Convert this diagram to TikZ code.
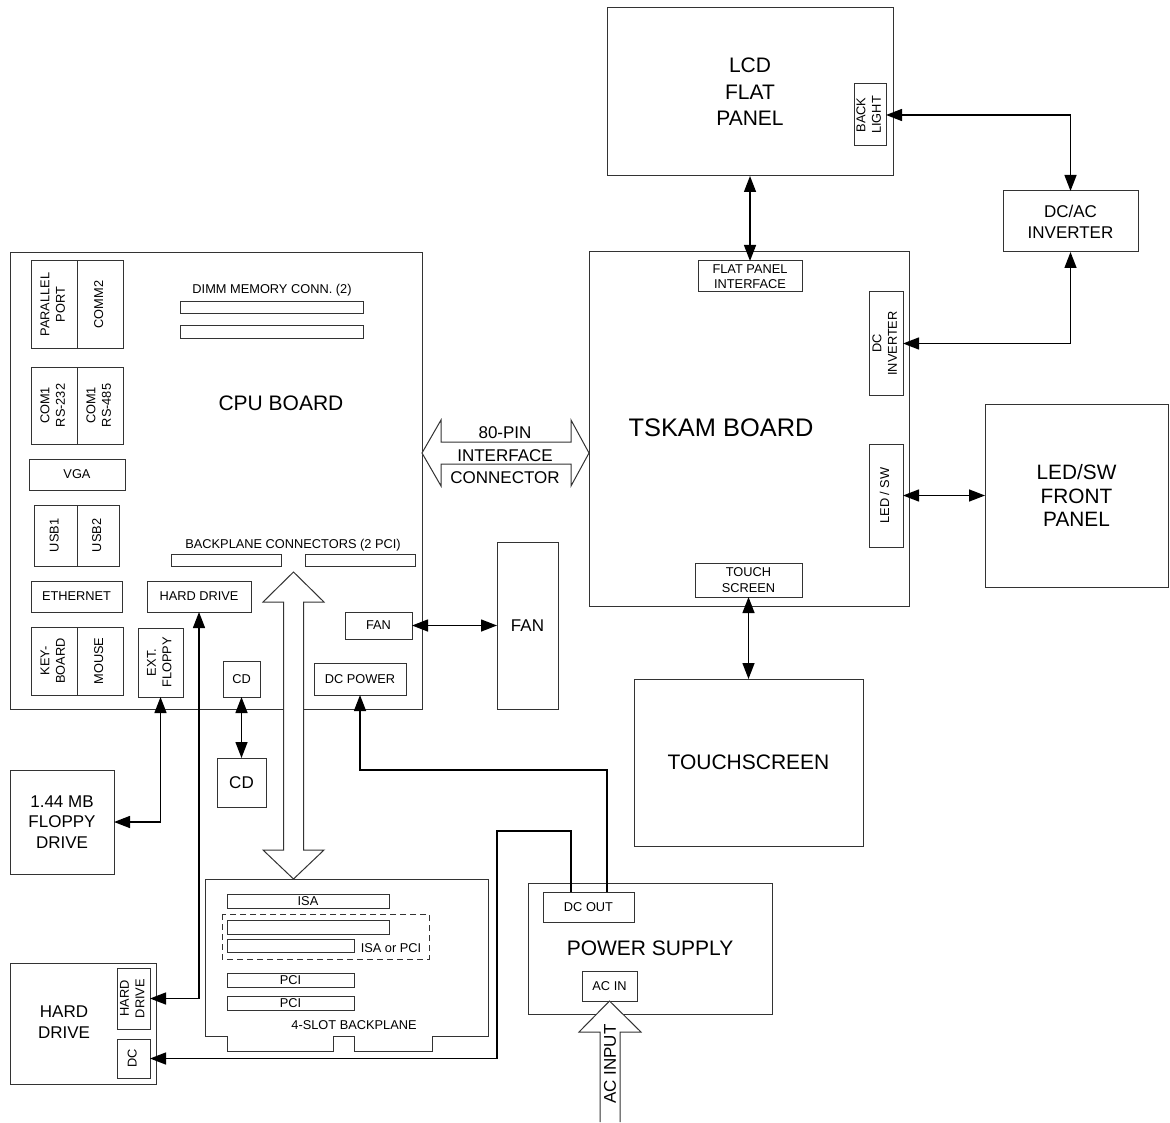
\documentclass[tikz,border=0pt]{standalone}
\usepackage{graphicx}
\usepackage{fontspec}
\setmainfont{Liberation Sans}
\usetikzlibrary{arrows.meta, calc}

\newcommand{\hugetxt}{\fontsize{12.7}{15}\selectfont}
\newcommand{\bigtxt}{\fontsize{10.5}{13.2}\selectfont}
\newcommand{\fronttxt}{\fontsize{10.4}{11.6}\selectfont}
\newcommand{\midtxt}{\fontsize{8.5}{10.4}\selectfont}
\newcommand{\pintxt}{\fontsize{8.5}{11.2}\selectfont}
\newcommand{\smalltxt}{\fontsize{6.4}{7.8}\selectfont}
\newcommand{\vlab}[1]{\rotatebox{90}{\begin{tabular}{@{}c@{}}#1\end{tabular}}}

\tikzset{wh/.style 2 args={minimum width=#1*0.5pt, minimum height=#2*0.5pt}}

\begin{document}
\begin{tikzpicture}[
        x = 0.5pt, y = -0.5pt, % one unit = one pixel of the sketch
        > = {Triangle[length=8pt, width=6pt]} % arrow head style
    ]

    \tikzstyle{outline}=[draw = black!80, line width = 0.5pt]
    \tikzstyle{box}=[outline, inner sep = 0pt, outer sep = 0pt, align = center, font = \smalltxt]
    \tikzstyle{wire}=[draw = black, line width = 0.7pt]
    \tikzstyle{hollow}=[outline, fill = white]

    \path[fill = white] (0,0) rectangle (1170,1122);

    % CPU board
    \node[box, wh={412}{456}] (cpu) at (216,481) {};
    \node[font=\bigtxt] (cputxt) at (281,403) {CPU BOARD};
    \node[box, wh={46}{87}] (par) at (54,304.5) {\vlab{PARALLEL\\PORT}};
    \node[box, wh={46}{87}] (com2) at (100,304.5) {\vlab{COMM2}};
    \node[box, wh={46}{77}] (rs232) at (54,405.5) {\vlab{COM1\\RS-232}};
    \node[box, wh={46}{77}] (rs485) at (100,405.5) {\vlab{COM1\\RS-485}};
    \node[box, wh={96}{31}] (vga) at (77,474.5) {VGA};
    \node[box, wh={43}{61}] (usb1) at (55.5,535.5) {\vlab{USB1}};
    \node[box, wh={42}{61}] (usb2) at (98,535.5) {\vlab{USB2}};
    \node[box, wh={91}{31}] (eth) at (76.5,596.5) {ETHERNET};
    \node[box, wh={104}{31}] (hdi) at (199,596.5) {HARD DRIVE};
    \node[box, wh={46}{68}] (kbd) at (54,661) {\vlab{KEY-\\BOARD}};
    \node[box, wh={46}{68}] (mouse) at (100,661) {\vlab{MOUSE}};
    \node[box, wh={45}{69}] (extfl) at (160.5,662.5) {\vlab{EXT.\\FLOPPY}};
    \node[box, wh={37}{36}] (cdi) at (241.5,679) {CD};
    \node[box, wh={92}{32}] (dcpow) at (360,679) {DC POWER};
    \node[box, wh={67}{27}] (fani) at (378.5,625.5) {FAN};
    \node[font=\smalltxt] (dimmtxt) at (272,290) {DIMM MEMORY CONN. (2)};
    \node[box, wh={183}{12}] (dimm1) at (271.5,307) {};
    \node[box, wh={183}{13}] (dimm2) at (271.5,331.5) {};
    \node[font=\smalltxt] (bpctxt) at (293,545) {BACKPLANE CONNECTORS (2 PCI)};
    \node[box, wh={110}{12}] (bpc1) at (226,560) {};
    \node[box, wh={110}{12}] (bpc2) at (360,560) {};

    % drives
    \node[box, font=\midtxt, wh={104}{104}] (flop) at (62,822) {1.44 MB\\FLOPPY\\DRIVE};
    \node[box, font=\midtxt, wh={49}{49}] (cdx) at (241.5,782.5) {CD};
    \node[box, wh={146}{121}] (hdx) at (83,1023.5) {};
    \node[font=\midtxt, align=center] (hdxtxt) at (64,1022) {HARD\\DRIVE};
    \node[box, wh={33}{61}] (hdb) at (133.5,998.5) {\vlab{HARD\\DRIVE}};
    \node[box, wh={33}{39}] (hddc) at (133.5,1058.5) {\vlab{DC}};

    % backplane
    \draw[outline] (205,879) -- (488,879) -- (488,1036) -- (432,1036) -- (432,1051)
        -- (354,1051) -- (354,1036) -- (333,1036) -- (333,1051) -- (227,1051)
        -- (227,1036) -- (205,1036) -- cycle;
    \node[box, wh={162}{14}] (isa) at (308,901) {ISA};
    \draw[outline, dash pattern=on 3pt off 2pt] (222,914) rectangle (429,959);
    \node[box, wh={162}{14}] (slot2) at (308,927) {};
    \node[box, wh={127}{13}] (slot3) at (290.5,945.5) {};
    \node[font=\smalltxt] (isapci) at (391,948) {ISA or PCI};
    \node[box, wh={127}{14}] (pci1) at (290.5,980) {PCI};
    \node[box, wh={127}{14}] (pci2) at (290.5,1003) {PCI};
    \node[font=\smalltxt] (bptxt) at (354,1025) {4-SLOT BACKPLANE};

    % power supply
    \node[box, font=\bigtxt, wh={244}{131}] (ps) at (650,948.5) {POWER SUPPLY};
    \node[box, wh={91}{30}] (dcout) at (588.5,907) {DC OUT};
    \node[box, wh={55}{30}] (acin) at (609.5,986) {AC IN};

    % TSKAM board
    \node[box, wh={320}{354}] (tskam) at (749,429) {};
    \node[font=\hugetxt] (tskamtxt) at (721,428) {TSKAM BOARD};
    \node[box, wh={104}{31}] (fpi) at (750,276.5) {FLAT PANEL\\INTERFACE};
    \node[box, wh={34}{103}] (dcinv) at (886,343.5) {\vlab{DC\\INVERTER}};
    \node[box, wh={34}{103}] (ledsw) at (886,495.5) {\vlab{LED / SW}};
    \node[box, wh={107}{34}] (tsc) at (748.5,580) {TOUCH\\SCREEN};

    % panels
    \node[box, font=\bigtxt, wh={286}{168}] (lcd) at (750,92) {LCD\\FLAT\\PANEL};
    \node[box, wh={32}{62}] (backl) at (870,115) {\vlab{BACK\\LIGHT}};
    \node[box, font=\midtxt, wh={135}{61}] (dcac) at (1070.5,221.5) {DC/AC\\INVERTER};
    \node[box, font=\fronttxt, wh={183}{183}] (front) at (1076.5,495.5) {LED/SW\\FRONT\\PANEL};
    \node[box, font=\bigtxt, wh={229}{167}] (touch) at (748.5,762.5) {TOUCHSCREEN};
    \node[box, font=\midtxt, wh={61}{167}] (fanx) at (527.5,625.5) {FAN};

    % connectors
    \draw[wire, <->] (lcd.south) -- (fpi.north);
    \draw[wire, <->] (backl.east) -| (dcac.north);
    \draw[wire, <->] (dcac.south) |- (dcinv.east);
    \draw[wire, <->] (ledsw.east) -- (front.west);
    \draw[wire, <->] (tsc.south) -- (touch.north);
    \draw[wire, <->] (fani.east) -- (fanx.west);
    \draw[wire, <->] (extfl.south) |- (flop.east);
    \draw[wire, <->] (cdi.south) -- (cdx.north);
    \draw[wire, <->] (hdi.south) |- (hdb.east);
    \draw[wire, ->] ($(dcout.north)+(-17.5,0)$) -- ++(0,-61) -- ++(-74,0) |- (hddc.east);
    \draw[wire, ->] ($(dcout.north)+(18.5,0)$) -- ++(0,-122) -| (dcpow.south);

    % wide arrows
    \draw[hollow] (293.5,572) -- (324,602) -- (303.5,602) -- (303.5,850) -- (324,850)
        -- (293.5,879) -- (263,850) -- (283.5,850) -- (283.5,602) -- (263,602) -- cycle;
    \draw[hollow] (422,453) -- (441,420) -- (441,442) -- (571,442) -- (571,420)
        -- (589,453) -- (571,486) -- (571,464) -- (441,464) -- (441,486) -- cycle;
    \node[font=\pintxt, align=center] (pintxt) at (505,455.5) {80-PIN\\INTERFACE\\CONNECTOR};
    \draw[hollow] (600,1122) -- (600,1032) -- (579,1032) -- (acin.south) -- (641,1032)
        -- (620,1032) -- (620,1122);
    \node[font=\midtxt, rotate=90] (actxt) at (610,1064) {AC INPUT};

\end{tikzpicture}
\end{document}
